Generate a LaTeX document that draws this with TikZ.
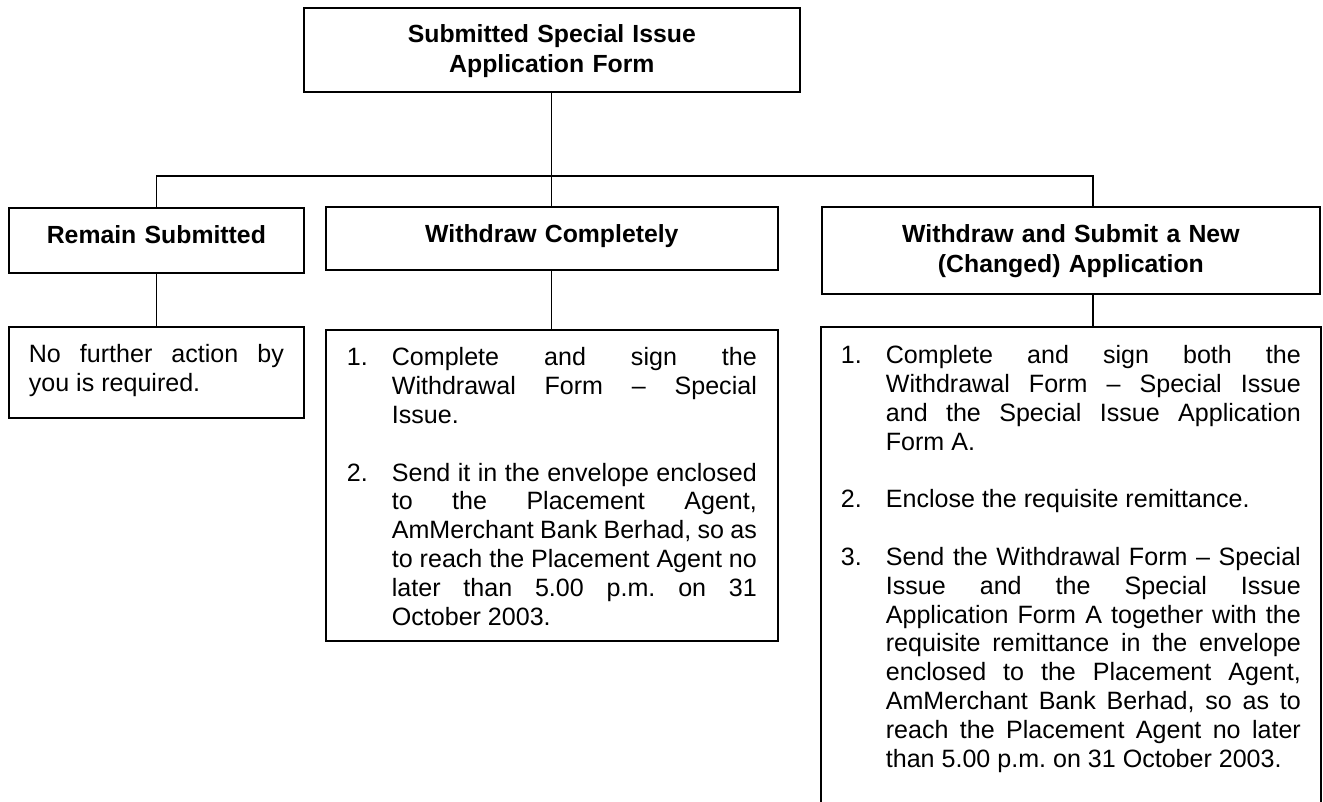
\documentclass[tikz,border=0pt]{standalone}
\usepackage{fontspec}
\setmainfont{Liberation Sans}
\hbadness=10000
\hfuzz=4pt
\tolerance=10000
\hyphenpenalty=10000
\frenchspacing

\tikzset{every picture/.style={line width=0.9pt}}
\tikzset{
  boxline/.style={line width=1.3pt},
  headbox/.style={draw, boxline, anchor=north west, inner xsep=0pt, inner ysep=0pt, align=center, text height=27pt, font=\fontsize{18.6}{21.9}\selectfont\bfseries},
  notebox/.style={draw, boxline, anchor=north west, inner ysep=0pt, align=justify, text height=27pt, font=\fontsize{18.8}{21.6}\selectfont}
}
\newcommand{\numitem}[2]{\hangindent=33.75pt\hangafter=1\noindent\makebox[33.75pt][l]{#1}#2\par}
\newcommand{\itemgap}{\vskip21.6pt}

\begin{document}
\begin{tikzpicture}[x=0.75pt,y=0.75pt,yscale=-1,xscale=1]
\useasboundingbox (0,0) rectangle (1323,802);

%Shape: Rectangle [id:top]
\node[headbox, text width=372pt, text height=26.25pt, text depth=36.75pt] (top) at (303,7) {Submitted Special Issue\\Application Form};
%Shape: Rectangle [id:remain]
\node[headbox, text width=221.25pt, text depth=21.75pt] (remain) at (8,207) {Remain Submitted};
%Shape: Rectangle [id:wdc]
\node[headbox, text width=339pt, text depth=20.25pt] (wdc) at (325,206) {Withdraw Completely};
%Shape: Rectangle [id:chg]
\node[headbox, text width=373.5pt, text depth=38.25pt] (chg) at (821,206) {Withdraw and Submit a New\\(Changed) Application};

% Text Node
\node[notebox, text width=191.25pt, inner xsep=15pt, text depth=41.25pt] (remaintxt) at (8,326) {No further action by\linebreak you is required.\par};
% Text Node
\node[notebox, text width=307.5pt, inner xsep=15.75pt, text depth=206.25pt] (wdctxt) at (325,329) {%
\numitem{1.}{Complete and sign the\linebreak Withdrawal Form -- Special\linebreak Issue.}\itemgap
\numitem{2.}{Send it in the envelope enclosed\linebreak to the Placement Agent,\linebreak AmMerchant Bank Berhad, so as\linebreak to reach the Placement Agent no\linebreak later than 5.00 p.m. on 31\linebreak October 2003.}};
% Text Node
\node[notebox, draw=none, text width=345pt, inner xsep=14.25pt, text depth=330.75pt] (chgtxt) at (821,327) {%
\numitem{1.}{Complete and sign both the\linebreak Withdrawal Form -- Special Issue\linebreak and the Special Issue Application\linebreak Form A.}\itemgap
\numitem{2.}{Enclose the requisite remittance.}\itemgap
\numitem{3.}{Send the Withdrawal Form -- Special\linebreak Issue and the Special Issue\linebreak Application Form A together with the\linebreak requisite remittance in the envelope\linebreak enclosed to the Placement Agent,\linebreak AmMerchant Bank Berhad, so as to\linebreak reach the Placement Agent no later\linebreak than 5.00 p.m. on 31 October 2003.}};
\draw[boxline] (chgtxt.south west) |- (chgtxt.north east) -- (chgtxt.south east);

\coordinate (bus) at (551,176);
\coordinate (chgtap) at (1093,206);

%Straight Lines [id:bus]
\draw (top.south) -- (wdc.north);
\draw (remain.north) |- (bus) -| (chgtap);
%Straight Lines [id:drops]
\draw (remain.south) -- (remaintxt.north);
\draw (wdc.south) -- (wdctxt.north);
\draw (chgtap |- chg.south) -- (chgtap |- chgtxt.north);

\end{tikzpicture}
\end{document}
